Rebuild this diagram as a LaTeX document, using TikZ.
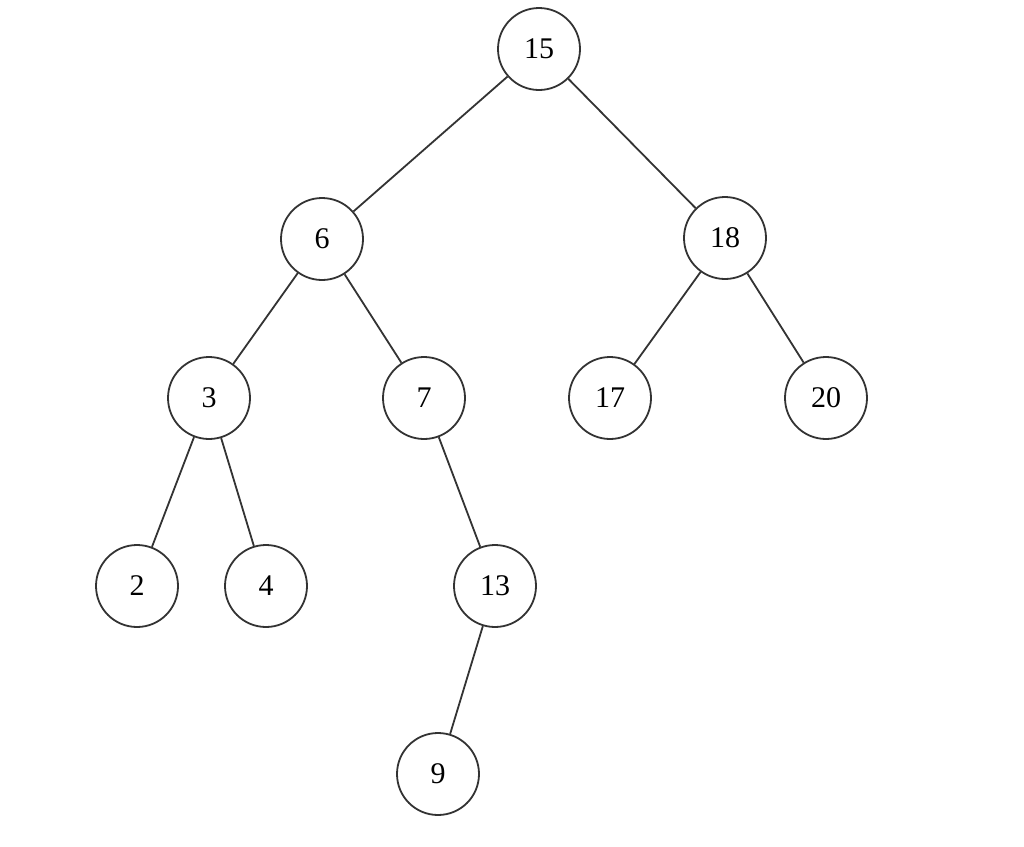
\documentclass[tikz,border=0pt]{standalone}
\usepackage{fontspec}
\setmainfont{Liberation Serif}
\begin{document}
\begin{tikzpicture}[x=0.5pt,y=-0.5pt,
  tn/.style={circle,draw=black!80,line width=0.9pt,minimum size=41pt,inner sep=0pt,font=\fontsize{15}{17}\selectfont},
  ed/.style={draw=black!80,line width=0.9pt}]
\useasboundingbox (0,0) rectangle (1024,847);
\node[tn] (n15) at (539,49) {15};
\node[tn] (n6) at (322,239) {6};
\node[tn] (n18) at (725,238) {18};
\node[tn] (n3) at (209,398) {3};
\node[tn] (n7) at (424,398) {7};
\node[tn] (n17) at (610,398) {17};
\node[tn] (n20) at (826,398) {20};
\node[tn] (n2) at (137,586) {2};
\node[tn] (n4) at (266,586) {4};
\node[tn] (n13) at (495,586) {13};
\node[tn] (n9) at (438,774) {9};
\path[ed] (n15) -- (n6);
\path[ed] (n15) -- (n18);
\path[ed] (n6) -- (n3);
\path[ed] (n6) -- (n7);
\path[ed] (n18) -- (n17);
\path[ed] (n18) -- (n20);
\path[ed] (n3) -- (n2);
\path[ed] (n3) -- (n4);
\path[ed] (n7) -- (n13);
\path[ed] (n13) -- (n9);
\end{tikzpicture}
\end{document}
